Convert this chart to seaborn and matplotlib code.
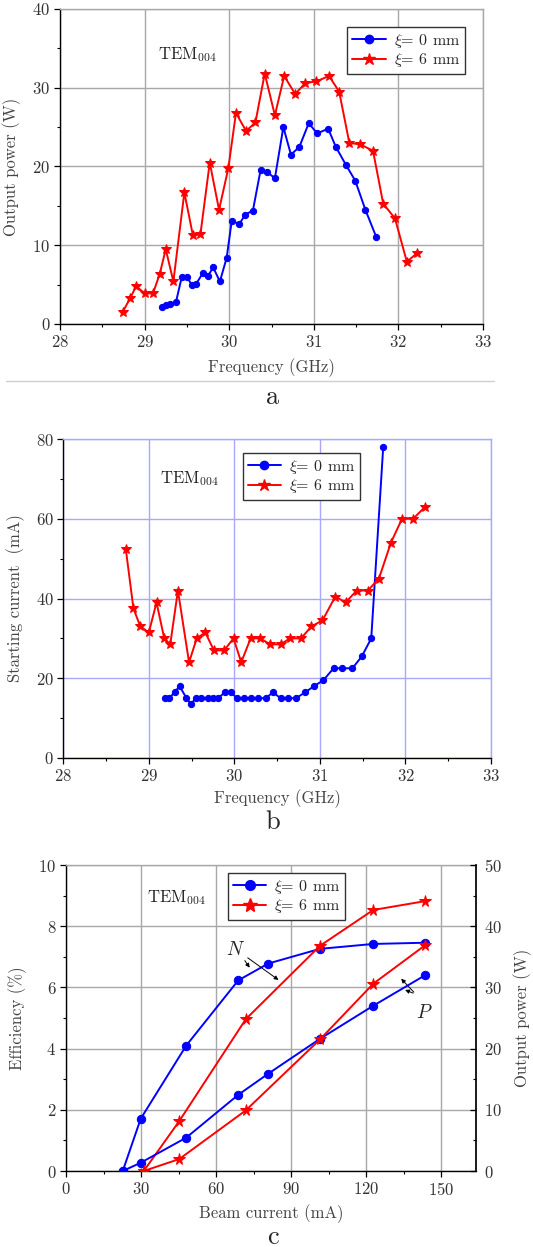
import numpy as np
import pandas as pd
import matplotlib
matplotlib.use('Agg')
import matplotlib.pyplot as plt
from matplotlib.lines import Line2D
from matplotlib.ticker import MultipleLocator
import seaborn as sns

# ~~~~~~~~~~~~~~~~~~~~~~~~~~~~~~ data ~~~~~~~~~~~~~~~~~~~~~~~~~~~~~~ #
# (a) output power vs frequency
freq_a0 = [29.20, 29.25, 29.30, 29.37, 29.44, 29.50, 29.56, 29.61, 29.69, 29.75,
           29.81, 29.89, 29.97, 30.03, 30.12, 30.19, 30.28, 30.37, 30.45, 30.54,
           30.64, 30.73, 30.83, 30.94, 31.04, 31.17, 31.26, 31.38, 31.49, 31.61, 31.74]
power_a0 = [2.2, 2.4, 2.5, 2.75, 6.0, 6.0, 4.9, 5.1, 6.5, 6.1,
            7.2, 5.4, 8.4, 13.1, 12.7, 13.9, 14.4, 19.5, 19.3, 18.5,
            25.0, 21.5, 22.5, 25.5, 24.2, 24.8, 22.5, 20.2, 18.2, 14.5, 11.0]
freq_a6 = [28.74, 28.83, 28.90, 29.00, 29.10, 29.18, 29.25, 29.34, 29.47, 29.57,
           29.66, 29.77, 29.88, 29.99, 30.08, 30.20, 30.31, 30.42, 30.54, 30.65,
           30.78, 30.90, 31.03, 31.18, 31.30, 31.42, 31.55, 31.70, 31.82, 31.96,
           32.10, 32.22]
power_a6 = [1.5, 3.3, 4.8, 3.9, 3.9, 6.4, 9.5, 5.4, 16.7, 11.3,
            11.4, 20.5, 14.5, 19.8, 26.8, 24.5, 25.6, 31.8, 26.5, 31.5,
            29.2, 30.6, 30.8, 31.5, 29.5, 23.0, 22.8, 22.0, 15.3, 13.4,
            7.9, 9.0]

# (b) starting current vs frequency
freq_b0 = [29.19, 29.24, 29.30, 29.36, 29.44, 29.49, 29.55, 29.61, 29.69, 29.75,
           29.81, 29.89, 29.96, 30.03, 30.11, 30.19, 30.28, 30.37, 30.45, 30.54,
           30.63, 30.72, 30.83, 30.93, 31.04, 31.16, 31.26, 31.38, 31.49, 31.60, 31.74]
current_b0 = [15, 15, 16.5, 18, 15, 13.5, 15, 15, 15, 15,
              15, 16.5, 16.5, 15, 15, 15, 15, 15, 16.5, 15,
              15, 15, 16.5, 18, 19.5, 22.5, 22.5, 22.5, 25.5, 30, 78]
freq_b6 = [28.73, 28.82, 28.90, 29.00, 29.09, 29.18, 29.25, 29.34, 29.47, 29.56,
           29.66, 29.76, 29.88, 29.99, 30.08, 30.19, 30.30, 30.42, 30.54, 30.65,
           30.78, 30.90, 31.03, 31.18, 31.30, 31.43, 31.56, 31.69, 31.83, 31.96,
           32.09, 32.23]
current_b6 = [52.5, 37.5, 33, 31.5, 39, 30, 28.5, 42, 24, 30,
              31.5, 27, 27, 30, 24, 30, 30, 28.5, 28.5, 30,
              30, 33, 34.5, 40.5, 39, 42, 42, 45, 54, 60,
              60, 63]

# (c) efficiency / output power vs beam current
beam_c0 = [22.7, 29.9, 48.1, 68.9, 80.9, 101.6, 122.9, 143.7]
eff_c0 = [0, 1.71, 4.10, 6.23, 6.78, 7.26, 7.42, 7.46]
pout_c0 = [0, 1.35, 5.45, 12.45, 15.9, 21.6, 27.0, 32.0]
beam_c6 = [31.1, 45.3, 71.9, 101.6, 122.9, 143.7]
eff_c6 = [0, 1.63, 4.96, 7.36, 8.53, 8.82]
pout_c6 = [0, 1.95, 9.9, 21.5, 30.6, 36.9]

labels = [r'$\xi$= 0 mm', r'$\xi$= 6 mm']

# ~~~~~~~~~~~~~~~~~~~~~~~~~~~~~~ style ~~~~~~~~~~~~~~~~~~~~~~~~~~~~~~ #
sns.set_theme(style='white')
plt.rcParams['font.family'] = ['cmr10', 'DejaVu Serif']
plt.rcParams['mathtext.fontset'] = 'cm'
plt.rcParams['axes.formatter.use_mathtext'] = True
plt.rcParams['axes.unicode_minus'] = False

W, H = 533, 1247
fig = plt.figure(figsize=(W / 100, H / 100), dpi=100)


def box(l, r, t, b):
    return [l / W, 1 - b / H, (r - l) / W, (b - t) / H]


def style_axes(ax, gridcol, xmaj, xmin, ymaj, ymin):
    ax.xaxis.set_major_locator(MultipleLocator(xmaj))
    ax.xaxis.set_minor_locator(MultipleLocator(xmin))
    ax.yaxis.set_major_locator(MultipleLocator(ymaj))
    ax.yaxis.set_minor_locator(MultipleLocator(ymin))
    ax.grid(True, which='major', color=gridcol, lw=1.0)
    ax.tick_params(which='both', direction='out', left=True, bottom=True,
                   color='black', labelsize=12, pad=3)
    ax.tick_params(which='major', length=4, width=0.9)
    ax.tick_params(which='minor', length=2.5, width=0.8)
    for s in ['left', 'bottom']:
        ax.spines[s].set_color('black')
        ax.spines[s].set_linewidth(1.0)
    for s in ['top', 'right']:
        ax.spines[s].set_color(gridcol)
        ax.spines[s].set_linewidth(1.0)
    for lab in ax.get_xticklabels() + ax.get_yticklabels():
        lab.set_color('#333333')


def draw(ax, x, y, color, marker, ms):
    df = pd.DataFrame({'x': x, 'y': y})
    sns.lineplot(data=df, x='x', y='y', ax=ax, color=color, marker=marker,
                 markersize=ms, markeredgecolor=color, linewidth=1.4,
                 estimator=None, sort=False, legend=False)


leg_kw = dict(frameon=True, fancybox=False, edgecolor='#333333', framealpha=1,
              fontsize=11.5, handlelength=2.1, handletextpad=0.5, borderpad=0.3,
              labelspacing=0.1, borderaxespad=0)

# ~~~~~~~~~~~~~~~~~~~~~~~~~~~~~~ (a) ~~~~~~~~~~~~~~~~~~~~~~~~~~~~~~ #
ax = fig.add_axes(box(60, 483, 9, 324))
draw(ax, freq_a0, power_a0, 'blue', 'o', 4.5)
draw(ax, freq_a6, power_a6, 'red', '*', 7.5)
ax.set_xlim(28, 33)
ax.set_ylim(0, 40)
style_axes(ax, '#a8a8a8', 1, 0.5, 10, 5)
ax.set_xlabel('Frequency (GHz)', fontsize=12, color='#444444', labelpad=6)
ax.set_ylabel('Output power (W)', fontsize=12, color='#444444', labelpad=8)
ax.text(0.232, 0.855, r'TEM$_{\mathsf{004}}$', transform=ax.transAxes, fontsize=12,
        va='center', ha='left', color='#222222')
h = [Line2D([], [], color='blue', marker='o', ms=6, lw=1.4),
     Line2D([], [], color='red', marker='*', ms=9, lw=1.4)]
ax.legend(h, labels, loc='upper right', bbox_to_anchor=(0.957, 0.943), **leg_kw)

fig.add_artist(Line2D([6 / W, 494 / W], [1 - 380.7 / H] * 2, color='#d0d0d0', lw=1.0))
fig.text(273 / W, 1 - 397 / H, 'a', fontsize=19, ha='center', va='center')

# ~~~~~~~~~~~~~~~~~~~~~~~~~~~~~~ (b) ~~~~~~~~~~~~~~~~~~~~~~~~~~~~~~ #
ax = fig.add_axes(box(63.3, 491, 439, 758))
draw(ax, freq_b0, current_b0, 'blue', 'o', 4.5)
draw(ax, freq_b6, current_b6, 'red', '*', 7.5)
ax.set_xlim(28, 33)
ax.set_ylim(0, 80)
style_axes(ax, '#a8a8ff', 1, 0.5, 20, 10)
ax.set_xlabel('Frequency (GHz)', fontsize=12, color='#444444', labelpad=4)
ax.set_ylabel('Starting current  (mA)', fontsize=12, color='#444444', labelpad=8)
ax.text(0.227, 0.875, r'TEM$_{\mathsf{004}}$', transform=ax.transAxes, fontsize=12,
        va='center', ha='left', color='#222222')
ax.legend(h, labels, loc='upper left', bbox_to_anchor=(0.42, 0.956), **leg_kw)
fig.text(273 / W, 1 - 822 / H, 'b', fontsize=19, ha='center', va='center')

# ~~~~~~~~~~~~~~~~~~~~~~~~~~~~~~ (c) ~~~~~~~~~~~~~~~~~~~~~~~~~~~~~~ #
ax = fig.add_axes(box(66, 476, 865, 1171))
draw(ax, beam_c0, eff_c0, 'blue', 'o', 6)
draw(ax, beam_c6, eff_c6, 'red', '*', 8.5)
ax.set_xlim(0, 164)
ax.set_ylim(0, 10)
style_axes(ax, '#a8a8a8', 30, 15, 2, 1)
ax.spines['right'].set_visible(False)
ax.set_xlabel('Beam current (mA)', fontsize=12, color='#444444', labelpad=5)
ax.set_ylabel('Efficiency (%)', fontsize=12, color='#444444', labelpad=8)
ax.text(0.198, 0.892, r'TEM$_{\mathsf{004}}$', transform=ax.transAxes, fontsize=12,
        va='center', ha='left', color='#222222')
hc = [Line2D([], [], color='blue', marker='o', ms=7, lw=1.4),
      Line2D([], [], color='red', marker='*', ms=10, lw=1.4)]
ax.legend(hc, labels, loc='upper left', bbox_to_anchor=(0.395, 0.974), **leg_kw)

arr = dict(arrowstyle='-|>', color='black', lw=0.7, mutation_scale=6)
ax.text(67.9, 7.22, r'$N$', fontsize=14, ha='center', va='center')
ax.annotate('', xy=(74.1, 6.57), xytext=(70.9, 6.95), arrowprops=arr)
ax.annotate('', xy=(85.9, 6.19), xytext=(71.8, 7.02), arrowprops=arr)
ax.text(143.5, 5.15, r'$P$', fontsize=14, ha='center', va='center')
ax.annotate('', xy=(133.3, 6.35), xytext=(139.9, 5.78), arrowprops=arr)
ax.annotate('', xy=(134.6, 5.95), xytext=(139.9, 5.78), arrowprops=arr)

ax2 = ax.twinx()
draw(ax2, beam_c0, pout_c0, 'blue', 'o', 6)
draw(ax2, beam_c6, pout_c6, 'red', '*', 8.5)
ax2.set_ylim(0, 50)
ax2.yaxis.set_major_locator(MultipleLocator(10))
ax2.yaxis.set_minor_locator(MultipleLocator(5))
ax2.grid(False)
ax2.tick_params(which='both', direction='in', right=True, color='black',
                labelsize=12, pad=6, labelcolor='#333333')
ax2.tick_params(which='major', length=4, width=0.9)
ax2.tick_params(which='minor', length=2.5, width=0.8)
for s in ['top', 'left', 'bottom']:
    ax2.spines[s].set_visible(False)
ax2.spines['right'].set_color('black')
ax2.set_ylabel('Output power (W)', fontsize=12, color='#444444', labelpad=8)
fig.text(273 / W, 1 - 1237 / H, 'c', fontsize=19, ha='center', va='center')

plt.savefig('out.png', dpi=100)
